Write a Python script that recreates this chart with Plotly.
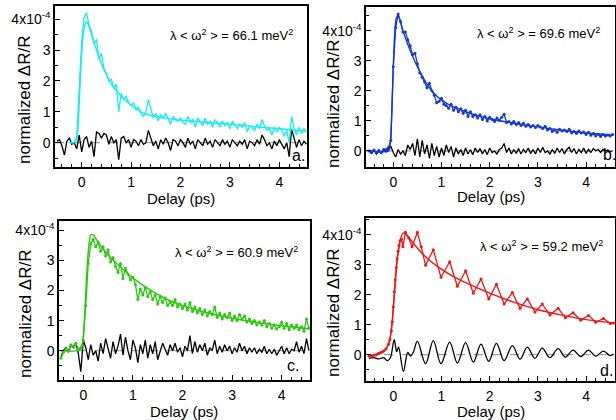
import numpy as np
import plotly.graph_objects as go

# ---------------- DATA (values in units of 1e-4) ----------------
STEP = 0.05

# panel a (cyan)
a_data_t0 = -0.25
a_data = [0.0, 0.0, 0.0, 0.2, 2.0, 3.3, 4.05, 4.2, 3.8, 3.6, 3.2, 3.35, 2.7, 2.9, 2.4, 2.25, 2.0, 2.05, 1.75, 1.9,
          1.0, 1.6, 1.4, 1.5, 1.3, 1.2, 1.3, 1.05, 1.15, 0.95, 0.85, 1.0, 1.4, 1.05, 0.8, 0.95, 0.7, 0.9, 0.8, 0.95,
          0.75, 0.6, 0.85, 0.75, 0.7, 0.8, 0.65, 0.6, 0.85, 0.65, 0.75, 0.5, 0.8, 0.65, 0.55, 0.8, 0.6, 0.7, 0.5, 0.75,
          0.6, 0.5, 0.7, 0.55, 0.65, 0.45, 0.7, 0.55, 0.45, 0.6, 0.5, 0.65, 0.35, 0.55, 0.5, 0.4, 0.6, 0.45, 0.75, 0.55,
          0.4, 0.45, 0.25, 0.5, 0.35, 0.5, 0.4, 0.2, 0.4, 0.0, 0.85, 0.45, 0.25, 0.5, 0.3, 0.45, 0.35]
a_fit_t = [-0.25, -0.15, -0.1, -0.07, -0.04, -0.01, 0.02, 0.05, 0.08, 0.11, 0.15, 0.2, 0.25, 0.3, 0.4, 0.5, 0.6,
           0.7, 0.8, 0.9, 1.0, 1.2, 1.4, 1.6, 1.8, 2.0, 2.5, 3.0, 3.5, 4.0, 4.55]
a_fit = [0.0, 0.0, 0.1, 0.6, 1.6, 2.6, 3.3, 3.7, 3.9, 3.9, 3.75, 3.5, 3.25, 3.0, 2.55, 2.2, 1.9,
         1.68, 1.5, 1.35, 1.22, 1.0, 0.88, 0.82, 0.77, 0.73, 0.66, 0.6, 0.52, 0.45, 0.37]
a_res_t0 = -0.5
a_res = [0.05, 0.1, -0.1, -0.4, 0.05, 0.15, -0.05, 0.0, -0.2, 0.25, -0.3, 0.1, 0.2, -0.15, 0.05, -0.45, 0.35, 0.3,
         0.15, 0.3, 0.25, -0.05, 0.2, 0.0, 0.1, -0.55, 0.15, 0.2, 0.0, 0.1, -0.15, 0.1, 0.05, -0.1, 0.1, -0.05, 0.0,
         0.4, 0.15, -0.1, 0.05, -0.2, 0.1, -0.05, 0.15, 0.0, -0.25, 0.1, 0.05, -0.1, 0.1, 0.0, -0.15, 0.15, -0.05,
         0.05, -0.2, 0.1, 0.0, -0.1, 0.15, -0.05, 0.05, -0.15, 0.1, 0.0, -0.1, 0.1, -0.05, 0.05, -0.15, 0.1, 0.0,
         -0.1, 0.05, -0.05, 0.1, -0.2, 0.05, 0.0, -0.1, 0.1, -0.05, 0.25, 0.1, -0.1, 0.0, -0.2, 0.05, -0.1, 0.1,
         -0.05, -0.2, 0.0, -0.45, 0.45, 0.1, -0.15, 0.1, -0.1, 0.05, -0.05]

# panel b (blue)
b_data_t0 = -0.5
b_data = [0.0, -0.05, 0.03, -0.05, 0.02, -0.04, 0.05, 0.05, 0.12, 0.35, 2.8, 4.1, 4.55, 4.3, 3.95, 3.95, 3.7, 3.5,
          3.2, 3.25, 2.9, 2.6, 2.45, 2.3, 2.1, 2.25, 2.0, 1.85, 1.6, 1.65, 1.75, 1.55, 1.5, 1.42, 1.55, 1.35, 1.45,
          1.3, 1.4, 1.25, 1.35, 1.15, 1.3, 1.15, 1.2, 1.1, 1.2, 1.05, 1.15, 1.0, 1.12, 1.05, 0.98, 1.1, 1.02, 1.12,
          1.22, 0.95, 0.98, 0.9, 0.98, 0.88, 0.95, 0.85, 0.92, 0.82, 0.88, 0.8, 0.85, 0.78, 0.85, 0.8, 0.75, 0.82,
          0.7, 0.75, 0.65, 0.7, 0.62, 0.72, 0.66, 0.7, 0.65, 0.72, 0.6, 0.65, 0.58, 0.66, 0.6, 0.63, 0.55, 0.62,
          0.52, 0.58, 0.5, 0.56, 0.48, 0.55, 0.5, 0.53, 0.5, 0.55]
b_fit_t = [-0.5, -0.1, -0.06, -0.03, 0.0, 0.03, 0.06, 0.1, 0.15, 0.2, 0.3, 0.4, 0.5, 0.6, 0.7, 0.8, 0.9, 1.0,
           1.2, 1.4, 1.6, 1.8, 2.0, 2.5, 3.0, 3.5, 4.0, 4.55]
b_fit = [0.0, 0.0, 0.3, 1.3, 2.8, 3.9, 4.4, 4.5, 4.3, 4.0, 3.55, 3.15, 2.8, 2.5, 2.22, 2.0, 1.83, 1.7,
         1.5, 1.37, 1.25, 1.15, 1.07, 0.92, 0.8, 0.69, 0.6, 0.53]
b_res_t0 = -0.5
b_res = [0.0, -0.08, 0.03, -0.1, 0.0, -0.08, 0.02, -0.03, 0.05, 0.15, -0.05, -0.2, 0.05, -0.1, 0.0, -0.15, 0.2,
         0.05, 0.25, -0.15, 0.4, -0.2, 0.35, -0.1, 0.2, -0.25, 0.25, -0.15, 0.15, -0.2, 0.1, -0.15, 0.2, -0.05,
         0.15, -0.2, 0.1, -0.1, 0.05, -0.15, 0.1, -0.1, 0.05, -0.12, 0.1, -0.05, 0.08, -0.1, 0.05, -0.12, 0.1,
         -0.05, 0.0, -0.1, 0.05, 0.1, 0.25, -0.05, 0.1, -0.1, 0.05, -0.08, 0.08, -0.1, 0.05, -0.05, 0.1, -0.08,
         0.05, -0.1, 0.1, -0.05, 0.12, -0.05, 0.0, -0.1, 0.05, -0.08, 0.1, -0.05, 0.08, -0.1, 0.05, 0.12, -0.05,
         0.08, -0.1, 0.05, -0.05, 0.1, -0.08, 0.05, -0.05, 0.08, 0.0, 0.05, -0.05, 0.05, 0.0, 0.03, -0.02, 0.0]

# panel c (green)
c_data_t0 = -0.45
c_data = [-0.25, -0.05, 0.05, 0.0, 0.2, 0.15, 0.25, 0.05, 0.1, 0.35, 1.5, 2.9, 3.55, 3.7, 3.45, 3.6, 3.3, 3.45,
          3.15, 3.35, 2.95, 3.1, 2.8, 2.6, 2.9, 2.4, 2.75, 2.55, 2.35, 2.45, 2.2, 1.7, 2.05, 1.85, 2.1, 1.8, 1.95,
          1.7, 1.85, 1.55, 1.8, 1.6, 1.75, 1.5, 1.6, 1.5, 1.7, 1.45, 1.55, 1.4, 1.55, 1.35, 1.6, 1.3, 1.45, 1.25,
          1.4, 1.2, 1.35, 1.15, 1.3, 1.2, 1.45, 1.1, 1.25, 1.05, 1.2, 1.1, 1.25, 1.0, 1.15, 1.0, 1.2, 1.05, 1.15,
          0.95, 1.05, 0.9, 1.0, 0.85, 0.95, 0.85, 1.0, 0.8, 0.9, 0.75, 0.85, 0.72, 0.8, 0.95, 0.75, 0.9, 0.7, 0.85,
          0.75, 0.85, 0.7, 0.8, 0.65, 1.05, 0.75]
c_fit_t = [-0.45, -0.1, -0.03, 0.0, 0.03, 0.06, 0.09, 0.12, 0.15, 0.2, 0.3, 0.4, 0.5, 0.75, 1.0, 1.25, 1.5,
           1.75, 2.0, 2.5, 3.0, 3.5, 4.0, 4.55]
c_fit = [0.0, 0.0, 0.1, 0.5, 1.3, 2.3, 3.1, 3.6, 3.85, 3.85, 3.6, 3.38, 3.18, 2.78, 2.42, 2.12, 1.87,
         1.66, 1.5, 1.26, 1.08, 0.94, 0.83, 0.73]
c_res_t0 = -0.45
c_res = [-0.2, 0.0, 0.1, -0.05, 0.2, 0.1, 0.25, -0.1, -0.7, 0.35, 0.1, -0.3, 0.2, -0.15, 0.0, -0.35, 0.25, -0.1,
         0.4, 0.1, -0.25, 0.3, -0.1, 0.15, 0.55, -0.15, 0.45, 0.0, -0.3, 0.35, 0.1, -0.4, 0.2, -0.1, 0.35, -0.25,
         0.2, -0.1, 0.3, -0.3, 0.0, 0.25, 0.05, -0.15, 0.2, 0.0, 0.25, -0.05, 0.1, -0.2, 0.15, 0.0, 0.5, -0.1,
         0.3, -0.05, 0.2, 0.0, 0.25, -0.15, 0.1, 0.0, 0.35, -0.1, 0.15, -0.05, 0.2, 0.0, 0.15, -0.1, 0.1, -0.05,
         0.25, 0.0, 0.15, -0.1, 0.1, -0.05, 0.1, -0.1, 0.05, -0.05, 0.15, -0.1, 0.05, -0.1, 0.05, -0.15, 0.0,
         0.15, -0.1, 0.1, -0.1, 0.05, 0.0, 0.3, -0.05, 0.15, -0.1, 0.4, 0.0]

# panel d (red)
d_data_t = [-0.5, -0.45, -0.4, -0.35, -0.3, -0.25, -0.2, -0.15, -0.1, -0.07, -0.04, -0.02, 0.0, 0.02, 0.04, 0.06,
            0.08, 0.1, 0.12, 0.14, 0.17, 0.2, 0.25, 0.32, 0.39, 0.5, 0.58, 0.67, 0.83, 0.99, 1.17, 1.33, 1.5, 1.66,
            1.82, 1.98, 2.14, 2.3, 2.47, 2.63, 2.78, 2.94, 3.09, 3.25, 3.42, 3.57, 3.73, 3.89, 4.05, 4.2, 4.36, 4.5,
            4.57]
d_data = [-0.05, -0.05, -0.02, 0.0, 0.05, 0.08, 0.12, 0.2, 0.35, 0.5, 0.8, 1.1, 1.6, 2.1, 2.5, 2.9,
          3.2, 3.45, 3.65, 3.8, 3.85, 3.6, 4.08, 3.9, 3.6, 4.08, 3.6, 2.98, 3.5, 2.58, 3.1, 2.28, 2.8, 2.05,
          2.52, 1.86, 2.35, 1.69, 2.07, 1.55, 1.86, 1.42, 1.69, 1.32, 1.55, 1.23, 1.4, 1.15, 1.31, 1.08, 1.21, 1.04,
          1.06]
d_fit_t = [-0.5, -0.3, -0.2, -0.1, -0.05, 0.0, 0.05, 0.1, 0.15, 0.2, 0.25, 0.3, 0.4, 0.5, 0.75, 1.0, 1.25, 1.5,
           2.0, 2.5, 3.0, 3.5, 4.0, 4.57]
d_fit = [-0.05, 0.02, 0.1, 0.35, 0.7, 1.5, 2.6, 3.4, 3.85, 4.05, 4.05, 3.95, 3.75, 3.55, 3.15, 2.85, 2.6, 2.4,
         2.05, 1.75, 1.5, 1.32, 1.17, 1.06]
d_res_t = [-0.5, -0.4, -0.3, -0.2, -0.12, -0.06, 0.02, 0.07, 0.11, 0.21, 0.3, 0.36, 0.42, 0.5, 0.67, 0.83, 0.99,
           1.17, 1.33, 1.5, 1.66, 1.82, 1.98, 2.14, 2.3, 2.47, 2.63, 2.78, 2.94, 3.09, 3.25, 3.42, 3.57, 3.73,
           3.89, 4.05, 4.2, 4.36, 4.5, 4.57]
d_res = [-0.12, -0.1, -0.14, -0.1, -0.2, -0.1, 0.5, 0.1, 0.25, -0.56, 0.08, -0.05, 0.1, 0.45, -0.3, 0.47, -0.3,
         0.42, -0.28, 0.4, -0.25, 0.35, -0.22, 0.38, -0.2, 0.3, -0.15, 0.25, -0.12, 0.22, -0.1, 0.2, -0.08, 0.15,
         -0.06, 0.15, -0.05, 0.12, -0.03, 0.02]

lambda_vals = ["66.1", "69.6", "60.9", "59.2"]
panel_letters = ["a.", "b.", "c.", "d."]
y_tick_vals = [0, 1, 2, 3, 4]
y_tick_text = ["0", "1", "2", "3", "4x10<sup>-4</sup>"]
x_tick_vals = [0, 1, 2, 3, 4]


def grid(t0, vals):
    return np.round(t0 + STEP * np.arange(len(vals)), 3)


# ---------------- LAYOUT GEOMETRY (pixels) ----------------
W, H = 616, 420
FONT = "Arial, Liberation Sans, sans-serif"
panels = [
    dict(box=(55, 307, 6, 167), xr=(-0.540, 4.561), yr=(-0.786, 4.424), color="#12EEF2",
         lam=(231, 35), let=(298, 155), xt=(181, 198), yt=(24, 100)),
    dict(box=(366, 615, 7, 167), xr=(-0.566, 4.60), yr=(-0.532, 4.784), color="#1638D2",
         lam=(538, 33), let=(609, 154), xt=(491, 196), yt=(333, 104)),
    dict(box=(59, 310, 221, 380), xr=(-0.49, 4.571), yr=(-0.973, 4.309), color="#2CC80E",
         lam=(237, 252), let=(293, 365), xt=(184, 411), yt=(25, 314)),
    dict(box=(366, 615, 218, 381), xr=(-0.566, 4.60), yr=(-0.877, 4.557), color="#F21414",
         lam=(541, 246), let=(606, 370), xt=(491, 411), yt=(333, 313)),
]

series = [
    (grid(a_data_t0, a_data), a_data, a_fit_t, a_fit, grid(a_res_t0, a_res), a_res, False, "linear"),
    (grid(b_data_t0, b_data), b_data, b_fit_t, b_fit, grid(b_res_t0, b_res), b_res, True, "linear"),
    (grid(c_data_t0, c_data), c_data, c_fit_t, c_fit, grid(c_res_t0, c_res), c_res, True, "linear"),
    (d_data_t, d_data, d_fit_t, d_fit, d_res_t, d_res, True, "spline"),
]

fig = go.Figure()
layout = dict(width=W, height=H, margin=dict(l=0, r=0, t=0, b=0, autoexpand=False), paper_bgcolor="white",
              plot_bgcolor="white", showlegend=False, font=dict(family=FONT, color="black"))
annotations = []
shapes = []

for i, (p, s) in enumerate(zip(panels, series)):
    n = "" if i == 0 else str(i + 1)
    xa, ya = "x" + n, "y" + n
    l, r, t, b = p["box"]
    layout["xaxis" + n] = dict(
        domain=[l / W, r / W], range=list(p["xr"]), anchor=ya, tickvals=x_tick_vals, automargin=False,
        ticks="inside", ticklen=5, tickwidth=1, tickcolor="black",
        minor=dict(dtick=0.2, tick0=0, ticks="inside", ticklen=3, tickcolor="black"),
        showline=True, linecolor="black", linewidth=1.5, mirror=True, showgrid=False, zeroline=False,
        tickfont=dict(size=14, family=FONT), ticklabelstandoff=1)
    layout["yaxis" + n] = dict(
        domain=[1 - b / H, 1 - t / H], range=list(p["yr"]), anchor=xa, tickvals=y_tick_vals, automargin=False,
        ticktext=y_tick_text, ticks="inside", ticklen=5, tickwidth=1, tickcolor="black",
        minor=dict(dtick=0.5, tick0=0, ticks="inside", ticklen=3, tickcolor="black"),
        showline=True, linecolor="black", linewidth=1.5, mirror=True, showgrid=False, zeroline=False,
        tickfont=dict(size=14, family=FONT))
    shapes.append(dict(type="line", xref=xa, yref=ya, x0=p["xr"][0], x1=p["xr"][1], y0=0, y1=0,
                       line=dict(color="#888888", width=1, dash="dash"), layer="below"))

    dt, dv, ft, fv, rt, rv, mk, res_shape = s
    fig.add_trace(go.Scatter(x=rt, y=rv, xaxis=xa, yaxis=ya, mode="lines",
                             line=dict(color="black", width=1.3, shape=res_shape)))
    fig.add_trace(go.Scatter(x=ft, y=fv, xaxis=xa, yaxis=ya, mode="lines",
                             line=dict(color=p["color"], width=1.4, shape="spline", smoothing=0.6)))
    fig.add_trace(go.Scatter(x=dt, y=dv, xaxis=xa, yaxis=ya, mode="lines+markers" if mk else "lines",
                             line=dict(color=p["color"], width=1.3),
                             marker=dict(size=3, color=p["color"])))

    annotations.append(dict(
        x=p["lam"][0] / W, y=1 - p["lam"][1] / H, xref="paper", yref="paper", showarrow=False,
        text="λ &lt; ω<sup>2</sup> &gt; = " + lambda_vals[i] + " meV<sup>2</sup>",
        font=dict(size=13, family=FONT), xanchor="center", yanchor="middle"))
    annotations.append(dict(
        x=p["let"][0] / W, y=1 - p["let"][1] / H, xref="paper", yref="paper", showarrow=False,
        text=panel_letters[i], font=dict(size=16, family=FONT), xanchor="center", yanchor="middle"))
    annotations.append(dict(
        x=p["xt"][0] / W, y=1 - p["xt"][1] / H, xref="paper", yref="paper", showarrow=False,
        text="Delay (ps)", font=dict(size=15, family=FONT), xanchor="center", yanchor="middle"))
    annotations.append(dict(
        x=p["yt"][0] / W, y=1 - p["yt"][1] / H, xref="paper", yref="paper", showarrow=False,
        text="normalized ΔR/R", textangle=-90, font=dict(size=17, family=FONT),
        xanchor="center", yanchor="middle"))

layout["annotations"] = annotations
layout["shapes"] = shapes
fig.update_layout(**layout)
fig.write_html("out.html", config={"displayModeBar": False},
               post_script="document.body.style.margin='0';document.body.style.padding='0';")
